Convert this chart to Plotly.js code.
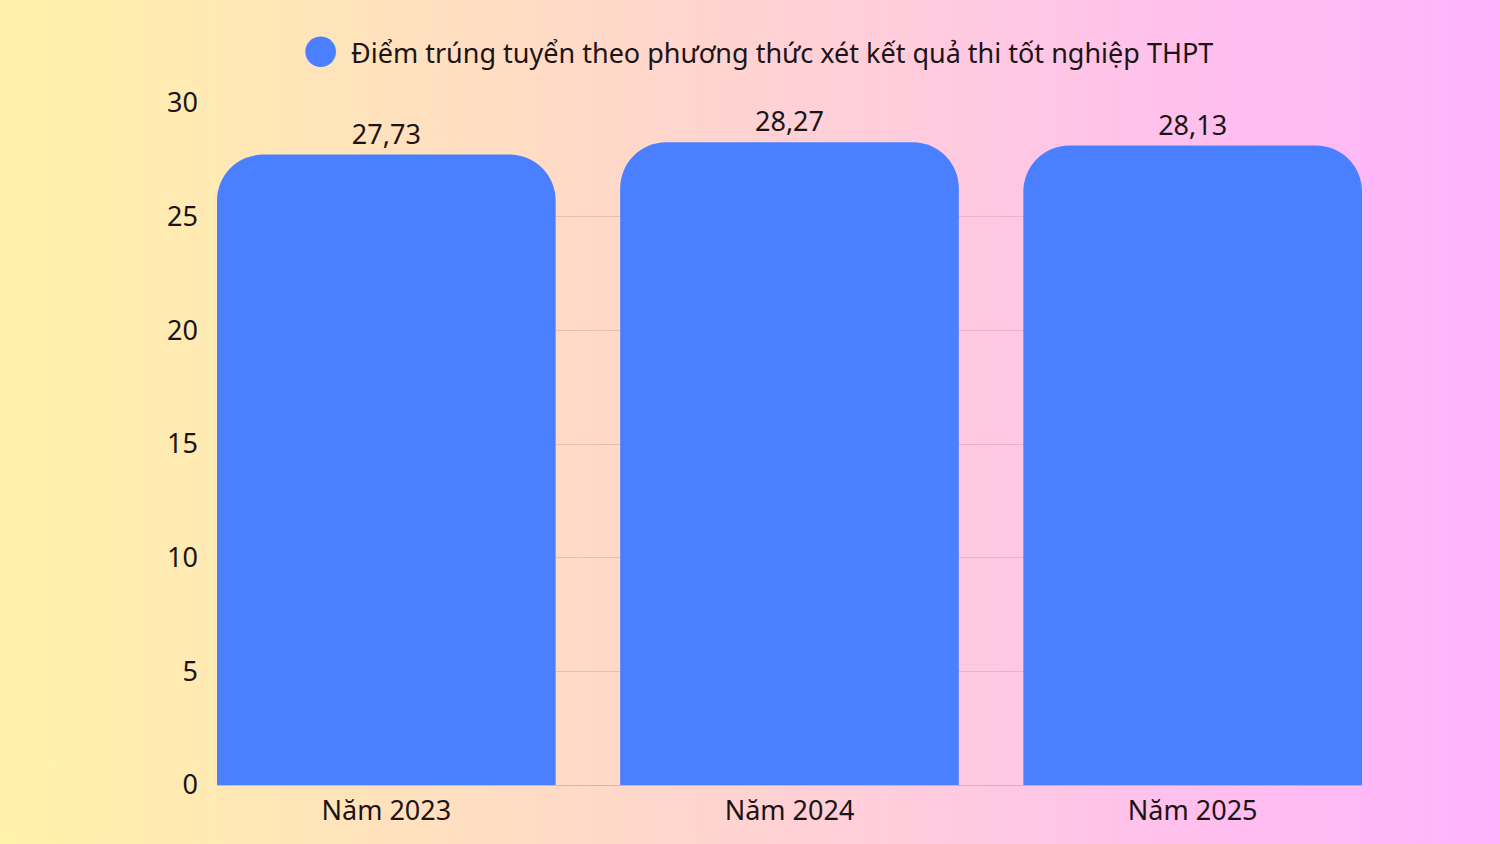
<!DOCTYPE html>
<html>
<head>
<meta charset="utf-8">
<script src="https://cdn.plot.ly/plotly-3.0.1.min.js"></script>
<style>
  html, body { margin: 0; padding: 0; }
  body {
    width: 1500px; height: 844px;
    background: linear-gradient(to right, #fff2a9 0%, #ffd9c8 40%, #ffc6e6 70%, #ffb3fd 100%);
  }
  #chart { width: 1500px; height: 844px; }
</style>
</head>
<body>
<div id="chart"></div>
<script>
// du lieu
var namHoc = ['Năm 2023', 'Năm 2024', 'Năm 2025'];
var diemTrungTuyen = [27.73, 28.27, 28.13];
var tenSeries = 'Điểm trúng tuyển theo phương thức xét kết quả thi tốt nghiệp THPT';
var mocTrucY = [0, 5, 10, 15, 20, 25, 30];

var mauCot = '#4a80ff';
var mauChu = '#1c1416';
var font = 'Noto Sans, Open Sans, sans-serif';

var trace = {
  type: 'bar',
  x: namHoc,
  y: diemTrungTuyen,
  name: tenSeries,
  width: 0.84,
  marker: { color: mauCot },
  texttemplate: '%{y:.2f}',
  textposition: 'outside',
  cliponaxis: false,
  textfont: { family: font, size: 27, color: mauChu },
  hoverinfo: 'x+y',
  showlegend: false
};

// chu thich tu ve (cham tron lon nhu ban goc)
var chuThich = [
  {
    xref: 'paper', yref: 'paper',
    x: 0.0908, y: 1.0, xanchor: 'center', yanchor: 'middle',
    yshift: 55,
    showarrow: false,
    text: '●',
    font: { family: 'DejaVu Sans', size: 40, color: mauCot }
  },
  {
    xref: 'paper', yref: 'paper',
    x: 0.1153, y: 1.0, xanchor: 'left', yanchor: 'middle',
    yshift: 51,
    showarrow: false,
    text: tenSeries,
    font: { family: font, size: 27, color: mauChu }
  }
];

var layout = {
  width: 1500,
  height: 844,
  paper_bgcolor: 'rgba(0,0,0,0)',
  plot_bgcolor: 'rgba(0,0,0,0)',
  separators: ',.',
  barcornerradius: 46,
  margin: { l: 217, r: 138, t: 103, b: 59 },
  font: { family: font, size: 27, color: mauChu },
  xaxis: {
    type: 'category',
    range: [-0.42, 2.42],
    showgrid: false,
    zeroline: false,
    showline: true,
    linecolor: 'rgba(190,130,130,0.45)',
    linewidth: 1,
    ticks: '',
    ticklabelstandoff: 2,
    tickfont: { family: font, size: 27, color: mauChu },
    fixedrange: true
  },
  yaxis: {
    range: [0, 30],
    tickvals: mocTrucY,
    showgrid: true,
    gridcolor: 'rgba(190,130,130,0.3)',
    gridwidth: 1,
    zeroline: false,
    showline: false,
    ticks: '',
    ticklabelstandoff: 18,
    tickfont: { family: font, size: 27, color: mauChu },
    fixedrange: true
  },
  annotations: chuThich
};

Plotly.newPlot('chart', [trace], layout, { displayModeBar: false, staticPlot: true });
</script>
</body>
</html>
